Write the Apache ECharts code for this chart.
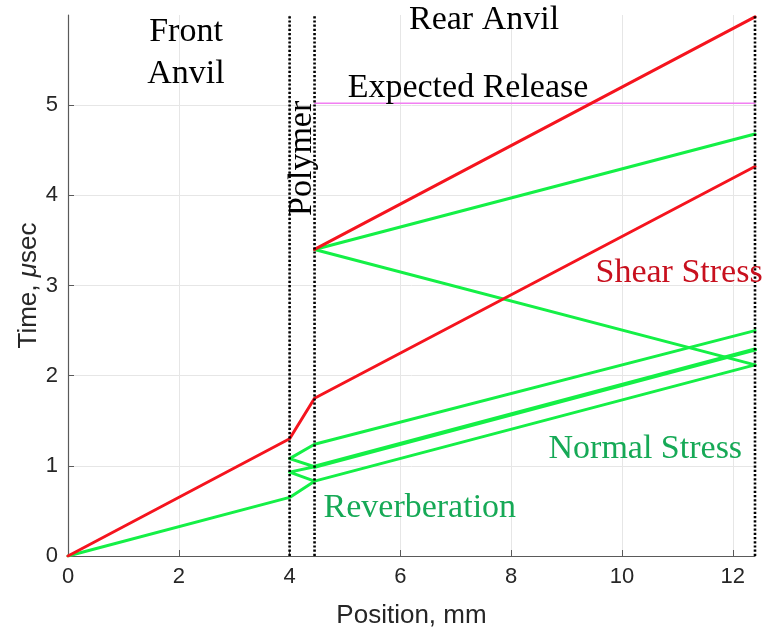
<!DOCTYPE html>
<html><head><meta charset="utf-8">
<script src="https://cdn.jsdelivr.net/npm/echarts@6/dist/echarts.min.js"></script>
<style>html,body{margin:0;padding:0;background:#fff}#c{width:763px;height:634px}</style>
</head><body><div id="c"></div>
<script>
// ---- data ----
const xTicks = [0, 2, 4, 6, 8, 10, 12];
const yTicks = [0, 1, 2, 3, 4, 5];
const boundaries = [4, 4.45, 12.4];           // front anvil | polymer | rear anvil end
const shearFront = [[0, 0], [4, 1.3], [4.45, 1.75], [12.4, 4.32]];
const shearRear = [[4.45, 3.4], [12.4, 5.98]];
const normalReverb = [[0, 0], [4, 0.65], [4.45, 0.83], [4, 0.93], [4.45, 0.99], [4, 1.08], [4.45, 1.24], [12.4, 2.5]];
const normalTrans1 = [[4.45, 0.83], [12.4, 2.12]];
const normalTrans2 = [[4.45, 0.99], [12.4, 2.29]];
const normalRelUp = [[4.45, 3.4], [12.4, 4.68]];
const normalRelDown = [[4.45, 3.4], [12.4, 2.12]];
const expectedRelease = [[4.45, 5.02], [12.4, 5.02]];
const annotations = [
  {text: 'Front\nAnvil', at: [2.13, 5.58], kind: 'black'},
  {text: 'Rear Anvil', at: [7.51, 5.94], kind: 'black'},
  {text: 'Expected Release', at: [7.22, 5.19], kind: 'black'},
  {text: 'Polymer', at: [4.23, 4.41], kind: 'rot'},
  {text: 'Shear Stress', at: [11.03, 3.14], kind: 'red'},
  {text: 'Normal Stress', at: [10.42, 1.19], kind: 'green'},
  {text: 'Reverberation', at: [6.35, 0.53], kind: 'green'}
];
const yMax = 6;

// ---- chart ----
const RED = '#f5141e', GREEN = '#14f046';
const serif = '"Liberation Serif", "DejaVu Serif", serif';
const sans = '"Liberation Sans", Arial, sans-serif';
const textColors = {black: '#000', rot: '#000', red: '#c8101e', green: '#16a956'};

function lineSeries(data, color, width) {
  return {type: 'line', data, symbol: 'none', silent: true, animation: false,
    lineStyle: {color, width, cap: 'round', join: 'round'}, z: 3};
}
const series = [
  lineSeries(normalReverb, GREEN, 3),
  lineSeries(normalTrans1, GREEN, 3),
  lineSeries(normalTrans2, GREEN, 4.2),
  lineSeries(normalRelUp, GREEN, 3),
  lineSeries(normalRelDown, GREEN, 3),
  lineSeries(shearFront, RED, 3),
  lineSeries(shearRear, RED, 3),
  Object.assign(lineSeries(expectedRelease, '#f27ff2', 1.5), {z: 2})
];
boundaries.forEach(b => series.push({type: 'line', data: [[b, 0], [b, yMax]], symbol: 'none', silent: true, animation: false,
  lineStyle: {color: '#000', width: 2.6, type: [2.2, 2], cap: 'butt'}, z: 4}));
annotations.forEach(a => series.push({type: 'scatter', silent: true, animation: false, symbolSize: 0, z: 5,
  itemStyle: {opacity: 1},
  data: [a.at],
  label: {show: true, position: 'inside', formatter: a.text, fontFamily: serif, fontSize: 34,
    lineHeight: 42, color: textColors[a.kind], opacity: 1, rotate: a.kind === 'rot' ? 90 : 0,
    align: 'center', verticalAlign: 'middle'}}));

const chart = echarts.init(document.getElementById('c'), null, {renderer: 'canvas'});
chart.setOption({
  animation: false,
  backgroundColor: '#fff',
  grid: {left: 68, right: 8, top: 15, bottom: 78, containLabel: false},
  xAxis: {type: 'value', min: 0, max: 12.4, interval: 2,
    name: 'Position, mm', nameLocation: 'middle', nameGap: 47,
    nameTextStyle: {fontFamily: sans, fontSize: 26, color: '#262626'},
    axisLine: {show: true, onZero: false, lineStyle: {color: '#5a5a5a', width: 1.2}},
    axisTick: {show: true, inside: true, length: 6, lineStyle: {color: '#5a5a5a'}},
    axisLabel: {fontFamily: sans, fontSize: 22, color: '#262626', margin: 10, showMaxLabel: false,
      formatter: v => xTicks.includes(v) ? String(v) : ''},
    splitLine: {show: true, showMinLine: false, showMaxLine: false, lineStyle: {color: '#e6e6e6', width: 1}}
  },
  yAxis: {type: 'value', min: 0, max: yMax, interval: 1,
    name: '{a|Time, }{i|μ}{a|sec}', nameLocation: 'middle', nameGap: 26, nameMoveOverlap: false,
    nameTextStyle: {fontFamily: sans, fontSize: 26, color: '#262626',
      rich: {a: {fontFamily: sans, fontSize: 26, color: '#262626'},
             i: {fontFamily: sans, fontSize: 26, color: '#262626', fontStyle: 'italic'}}},
    axisLine: {show: true, onZero: false, lineStyle: {color: '#5a5a5a', width: 1.2}},
    axisTick: {show: true, inside: true, length: 6, lineStyle: {color: '#5a5a5a'}},
    axisLabel: {fontFamily: sans, fontSize: 22, color: '#262626', margin: 10, showMaxLabel: false,
      formatter: v => yTicks.includes(v) ? String(v) : ''},
    splitLine: {show: true, showMinLine: false, showMaxLine: false, lineStyle: {color: '#e6e6e6', width: 1}}
  },
  series
});
</script></body></html>
